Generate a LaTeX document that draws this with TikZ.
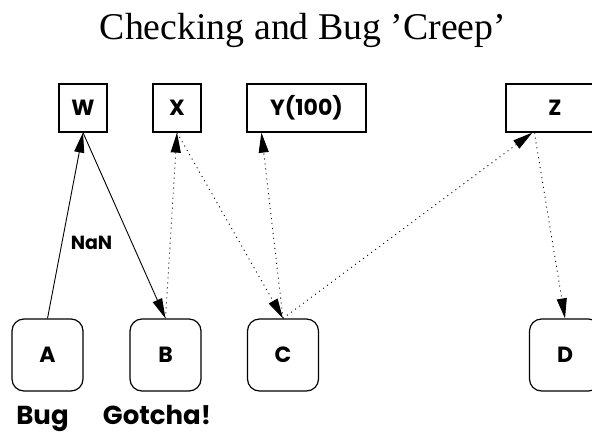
\documentclass[tikz,border=0pt]{standalone}
\usepackage{fontspec}
\usepackage{tikz}
\usetikzlibrary{arrows.meta}
\newfontfamily\titlefont{Liberation Serif}
\newfontfamily\lblfont{Poppins}

\begin{document}
\begin{tikzpicture}[x=1pt,y=1pt]
  \tikzstyle{var}=[draw,rectangle,line width=1.2pt,minimum height=48pt,inner sep=0pt,font=\lblfont\bfseries\fontsize{22}{22}\selectfont]
  \tikzstyle{proc}=[draw,rectangle,rounded corners=12pt,line width=1.2pt,minimum width=71pt,minimum height=72pt,inner sep=0pt,font=\lblfont\bfseries\fontsize{22}{22}\selectfont]
  \tikzstyle{lbl}=[inner sep=0pt,font=\lblfont\bfseries\fontsize{26}{26}\selectfont]
  \tikzstyle{arr}=[-{Triangle[length=20pt,width=10pt]},line width=0.9pt]
  \tikzstyle{darr}=[arr,dash pattern=on 1pt off 4pt]

  \clip (0,0) rectangle (592,-432);

  % Title
  \node[inner sep=0pt,anchor=base,font=\titlefont\fontsize{37.8}{37.8}\selectfont] (title) at (303,-39) {Checking and Bug ’Creep’};

  % Variables
  \node[var,minimum width=48pt] (W) at (83,-108) {W};
  \node[var,minimum width=48pt] (X) at (177,-108) {X};
  \node[var,minimum width=119pt] (Y) at (306.5,-108) {Y(100)};
  \node[var,minimum width=98pt] (Z) at (555,-108) {Z};

  % Processes
  \node[proc] (A) at (47.5,-355) {A};
  \node[proc] (B) at (165.5,-355) {B};
  \node[proc] (C) at (283,-355) {C};
  \node[proc] (D) at (565,-355) {D};

  \node[lbl,anchor=base] (bug) at (42.5,-424) {Bug};
  \node[lbl,anchor=base] (gotcha) at (157,-424) {Gotcha!};

  % Flow
  \draw[arr] (A.north) -- (W.south);
  \draw[arr] (W.south) -- (B.north);
  \node[inner sep=0pt,font=\lblfont\bfseries\fontsize{19}{19}\selectfont] (nan) at (91.5,-242.5) {NaN};
  \draw[darr] (B.north) -- (X.south);
  \draw[darr] (X.south) -- (C.north);
  \draw[darr] (C.north) -- ([xshift=15pt]Y.south west);
  \draw[darr] (C.north) -- ([xshift=27pt]Z.south west);
  \draw[darr] ([xshift=29pt]Z.south west) -- (D.north);
\end{tikzpicture}
\end{document}
